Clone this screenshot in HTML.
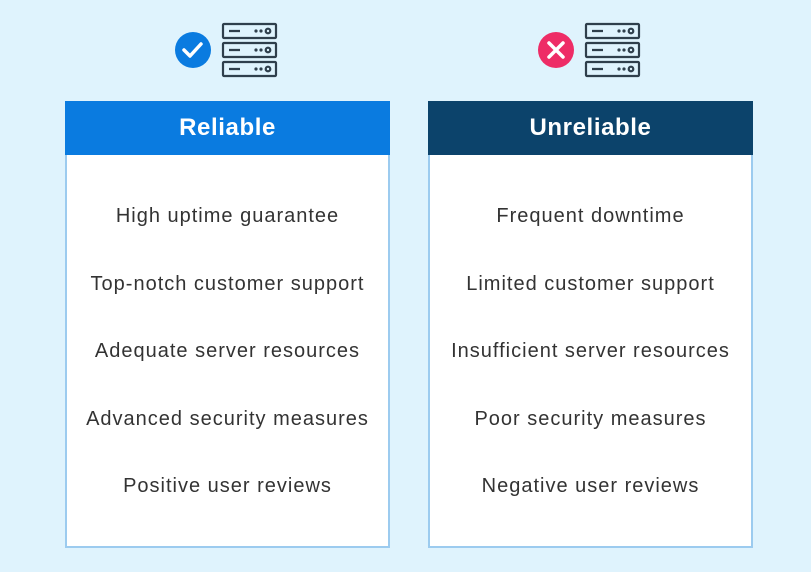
<!DOCTYPE html>
<html><head><style>
body{margin:0;width:811px;height:572px;background:#dff3fd;position:relative;overflow:hidden;font-family:"Liberation Sans",sans-serif}
.p{position:absolute;top:101px;width:321px;height:445px;background:#fff;border:2px solid #9ccbef;border-top:none}
.h{position:absolute;left:-2px;top:0;width:325px;height:54px;color:#fff;font-size:24px;font-weight:bold;text-align:center;line-height:54px;letter-spacing:0.6px}
.t{position:absolute;left:0;width:100%;text-align:center;font-size:20px;color:#333;line-height:24px;letter-spacing:1px;white-space:nowrap}
svg{position:absolute}
</style></head><body>
<svg width="811" height="100" style="left:0;top:0">
<circle cx="193" cy="50" r="18" fill="#0a7be0"/>
<path d="M184 50 l6 6 l11 -12" stroke="#fff" stroke-width="3.5" fill="none" stroke-linecap="round" stroke-linejoin="round"/>
<circle cx="556" cy="50" r="18" fill="#ee2c66"/>
<path d="M549 43 l14 14 M563 43 l-14 14" stroke="#fff" stroke-width="3.5" stroke-linecap="round"/>
<g id="s" stroke="#2f3f4c" stroke-width="2.2" fill="none">
<rect x="223" y="24" width="53" height="14" rx="1"/>
<rect x="223" y="43" width="53" height="14" rx="1"/>
<rect x="223" y="62" width="53" height="14" rx="1"/>
<path d="M229 31h11M229 50h11M229 69h11"/>
<g fill="#2f3f4c" stroke="none"><circle cx="256" cy="31" r="1.6"/><circle cx="261" cy="31" r="1.6"/><circle cx="256" cy="50" r="1.6"/><circle cx="261" cy="50" r="1.6"/><circle cx="256" cy="69" r="1.6"/><circle cx="261" cy="69" r="1.6"/></g>
<circle cx="268" cy="31" r="2.3"/><circle cx="268" cy="50" r="2.3"/><circle cx="268" cy="69" r="2.3"/>
</g>
<use href="#s" x="363"/>
</svg>
<div class="p" style="left:65px"><div class="h" style="background:#0a7be0">Reliable</div>
<div class="t" style="top:103px">High uptime guarantee</div>
<div class="t" style="top:171px">Top-notch customer support</div>
<div class="t" style="top:238px">Adequate server resources</div>
<div class="t" style="top:306px">Advanced security measures</div>
<div class="t" style="top:373px">Positive user reviews</div></div>
<div class="p" style="left:428px"><div class="h" style="background:#0c436b">Unreliable</div>
<div class="t" style="top:103px">Frequent downtime</div>
<div class="t" style="top:171px">Limited customer support</div>
<div class="t" style="top:238px">Insufficient server resources</div>
<div class="t" style="top:306px">Poor security measures</div>
<div class="t" style="top:373px">Negative user reviews</div></div>
</body></html>
